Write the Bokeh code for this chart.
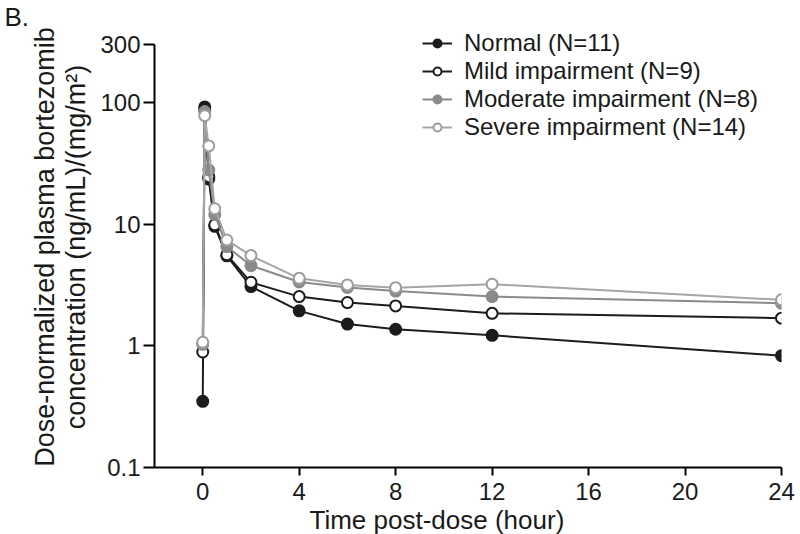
from bokeh.plotting import figure
from bokeh.models import Range1d, FixedTicker, Legend, LegendItem, Title
from bokeh.embed import file_html
from bokeh.resources import INLINE

# ---- data ----
time_h = [0, 0.083, 0.25, 0.5, 1, 2, 4, 6, 8, 12, 24]
normal = [0.35, 92, 23.5, 9.6, 5.5, 3.07, 1.94, 1.51, 1.37, 1.22, 0.83]
mild = [0.89, 87, 24.6, 9.9, 5.6, 3.33, 2.54, 2.27, 2.13, 1.85, 1.69]
moderate = [1.03, 84, 27.9, 12.0, 6.55, 4.57, 3.35, 3.02, 2.82, 2.54, 2.24]
severe = [1.07, 78, 44, 13.4, 7.4, 5.52, 3.59, 3.17, 3.01, 3.21, 2.39]
series_names = ["Normal (N=11)", "Mild impairment (N=9)",
                "Moderate impairment (N=8)", "Severe impairment (N=14)"]
x_ticks = [0, 4, 8, 12, 16, 20, 24]
y_ticks = [0.1, 1, 10, 100, 300]
y_tick_labels = ["0.1", "1", "10", "100", "300"]

FONT = "Liberation Sans"

p = figure(width=800, height=534,
           x_range=Range1d(-2, 24), y_range=Range1d(0.1, 422),
           y_axis_type="log", output_backend="svg", toolbar_location=None,
           min_border_left=154, min_border_right=19,
           min_border_top=26, min_border_bottom=67)
p.outline_line_color = None
p.xgrid.visible = False
p.ygrid.visible = False
p.background_fill_color = "white"
p.border_fill_color = "white"

styles = [
    dict(line="#1c1c1c", fill="#1c1c1c", edge="#1c1c1c"),
    dict(line="#1c1c1c", fill="white", edge="#1c1c1c"),
    dict(line="#8a8a8a", fill="#8a8a8a", edge="#8a8a8a"),
    dict(line="#a6a6a6", fill="white", edge="#9c9c9c"),
]
items = []
for name, ys, st in zip(series_names, [normal, mild, moderate, severe], styles):
    ln = p.line(time_h, ys, line_color=st["line"], line_width=2)
    sc = p.scatter(time_h, ys, marker="circle", size=11,
                   fill_color=st["fill"], line_color=st["edge"], line_width=2)
    items.append(LegendItem(label=name, renderers=[ln, sc]))

legend = Legend(items=items, location=(268, 326), orientation="vertical",
                glyph_width=30, glyph_height=20, label_height=20,
                label_standoff=12, spacing=0, padding=0, margin=0,
                border_line_alpha=0, background_fill_alpha=0,
                label_text_font=FONT, label_text_font_size="24px",
                label_text_line_height=0.85,
                label_text_color="#1a1a1a", label_text_baseline="middle")
p.add_layout(legend)

# axes
xa = p.xaxis[0]
xa.ticker = FixedTicker(ticks=x_ticks)
xa.minor_tick_line_color = None
xa.major_tick_in = 0
xa.major_tick_out = 8
xa.major_tick_line_width = 2
xa.axis_line_width = 2
xa.major_label_standoff = 7
xa.major_label_text_font = FONT
xa.major_label_text_font_size = "24px"
xa.major_label_text_color = "#1a1a1a"

ya = p.yaxis[0]
ya.ticker = FixedTicker(ticks=y_ticks)
ya.bounds = (0.1, 300)
ya.major_label_overrides = {t: s for t, s in zip(y_ticks, y_tick_labels)}
ya.minor_tick_line_color = None
ya.major_tick_in = 0
ya.major_tick_out = 11
ya.major_tick_line_width = 2
ya.axis_line_width = 2
ya.major_label_standoff = 3
ya.major_label_text_font = FONT
ya.major_label_text_font_size = "24px"
ya.major_label_text_color = "#1a1a1a"
ya.axis_label = "Dose-normalized plasma bortezomib\nconcentration (ng/mL)/(mg/m\u00b2)"
ya.axis_label_text_font = FONT
ya.axis_label_text_font_size = "27px"
ya.axis_label_text_font_style = "normal"
ya.axis_label_text_color = "#1a1a1a"
ya.axis_label_standoff = 6
ya.axis_label_text_line_height = 1.04

# x-axis title (shifted left like the reference) and panel letter
p.add_layout(Title(text="Time post-dose (hour)", align="left", offset=155,
                   standoff=0, text_font=FONT, text_font_size="26px",
                   text_font_style="normal", text_color="#1a1a1a"), "below")
p.add_layout(Title(text="B.", align="left", offset=-150, standoff=-10,
                   text_font=FONT, text_font_size="26px",
                   text_font_style="normal", text_color="#1a1a1a"), "above")

open("out.html", "w").write(file_html(p, INLINE))
